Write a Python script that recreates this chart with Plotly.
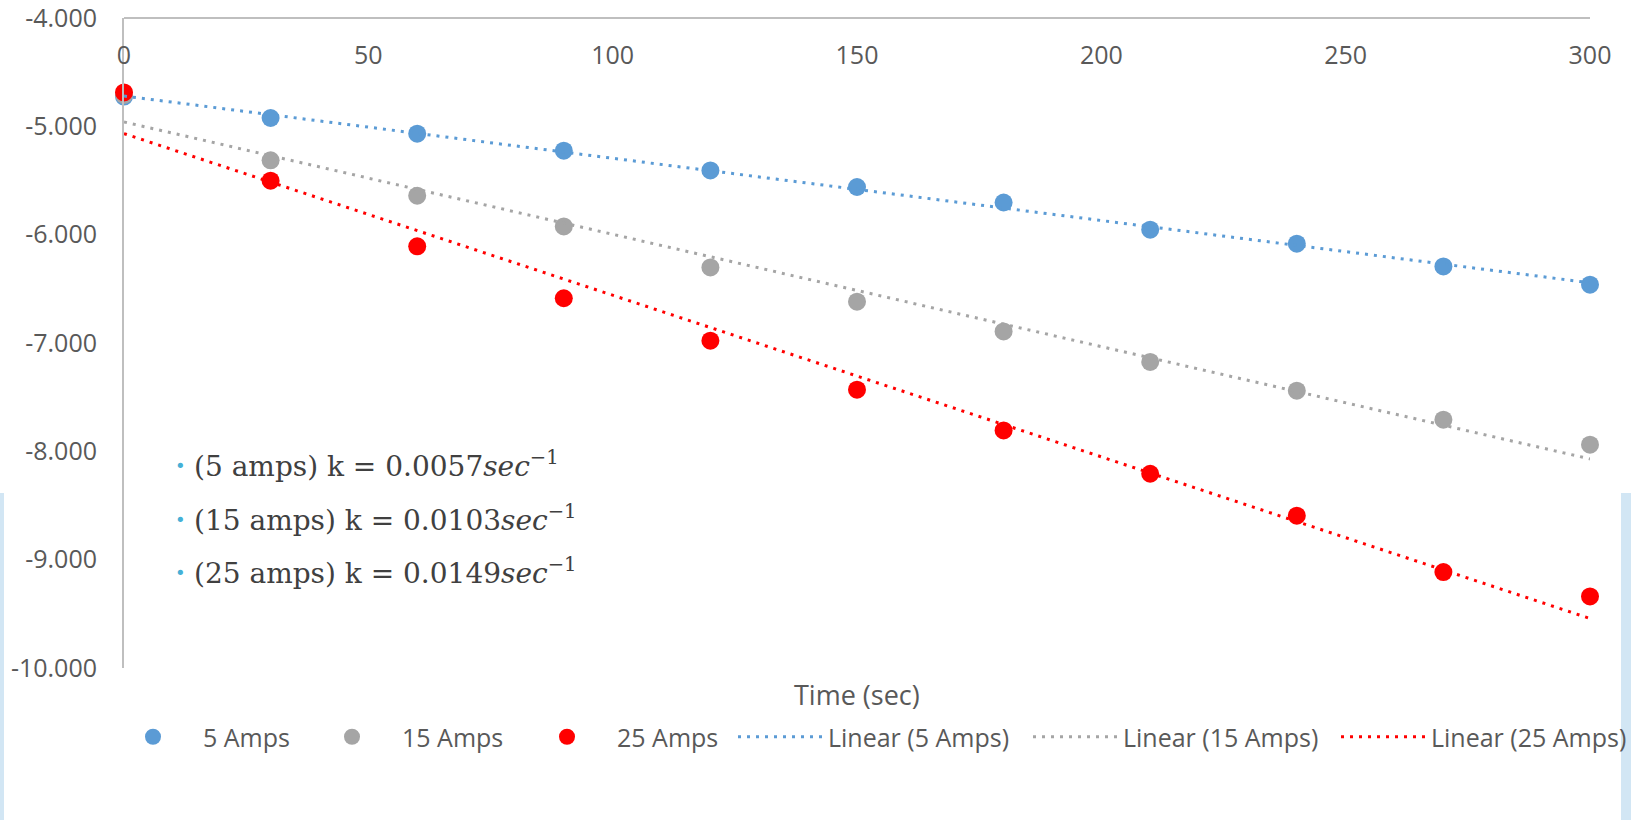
import numpy as np
import plotly.graph_objects as go

# ---------------- data ----------------
time_sec = [0, 30, 60, 90, 120, 150, 180, 210, 240, 270, 300]
amps_5 = [-4.725, -4.923, -5.068, -5.225, -5.407, -5.560, -5.703, -5.954, -6.083, -6.293, -6.462]
amps_15 = [-4.710, -5.314, -5.640, -5.924, -6.302, -6.619, -6.893, -7.175, -7.440, -7.708, -7.939]
amps_25 = [-4.687, -5.502, -6.108, -6.587, -6.979, -7.431, -7.807, -8.207, -8.594, -9.114, -9.339]

series_names = ["5 Amps", "15 Amps", "25 Amps"]
series_colors = ["#5b9bd5", "#a5a5a5", "#ff0000"]

x_ticks = [0, 50, 100, 150, 200, 250, 300]
y_ticks = [-4, -5, -6, -7, -8, -9, -10]
y_tick_labels = ["-4.000", "-5.000", "-6.000", "-7.000", "-8.000", "-9.000", "-10.000"]

rate_labels = ["(5 amps) k = 0.0057", "(15 amps) k = 0.0103", "(25 amps) k = 0.0149"]
x_title = "Time (sec)"

# ---------------- figure ----------------
W, H = 1631, 820
ML, MR, MT, MB = 124, 41, 18, 152
PW, PH = W - ML - MR, H - MT - MB
TXT = "#595959"
FONT = "Open Sans"

fig = go.Figure()
all_series = [amps_5, amps_15, amps_25]

# markers
for i, (nm, col, ys) in enumerate(zip(series_names, series_colors, all_series)):
    fig.add_trace(go.Scatter(
        x=time_sec, y=ys, mode="markers", name=nm,
        marker=dict(size=18, color=col),
        cliponaxis=False,
        legend="legend" if i == 0 else f"legend{i + 1}",
    ))

# linear trendlines (least squares through each series)
for i, (nm, col, ys) in enumerate(zip(series_names, series_colors, all_series)):
    slope, icpt = np.polyfit(time_sec, ys, 1)
    xs = [time_sec[0], time_sec[-1]]
    fig.add_trace(go.Scatter(
        x=xs, y=[slope * v + icpt for v in xs], mode="lines",
        name=f"Linear ({nm})",
        line=dict(color=col, width=3, dash="3px,6px"),
        cliponaxis=False,
        legend=f"legend{i + 4}",
    ))


def leg(px, iw):
    return dict(
        x=px / W, xref="container", y=1 - 737 / H, yref="container",
        xanchor="left", yanchor="middle", orientation="h",
        itemwidth=iw, itemsizing="trace",
        font=dict(family=FONT, size=25, color=TXT),
        bgcolor="rgba(0,0,0,0)", borderwidth=0,
    )


def px_to_paper_x(px):
    return (px - ML) / PW


def py_to_paper_y(py):
    return (H - MB - py) / PH


annotations = [
    dict(text=x_title, xref="paper", yref="paper", x=0.5, y=py_to_paper_y(694),
         xanchor="center", yanchor="middle", showarrow=False,
         font=dict(family=FONT, size=27, color=TXT)),
]
line_y = [464, 518, 571]
for lab, py in zip(rate_labels, line_y):
    annotations.append(dict(
        text="•", xref="paper", yref="paper", x=px_to_paper_x(180), y=py_to_paper_y(py + 1),
        xanchor="center", yanchor="middle", showarrow=False,
        font=dict(family="DejaVu Sans", size=18, color="#45b0d6")))
    annotations.append(dict(
        text=f"{lab}<i>sec</i><sup>−1</sup>", xref="paper", yref="paper",
        x=px_to_paper_x(192), y=py_to_paper_y(py), xanchor="left", yanchor="middle",
        showarrow=False, font=dict(family="DejaVu Serif", size=28, color="#404040")))

band_color = "#d2e6f4"
shapes = [
    dict(type="rect", xref="paper", yref="paper", x0=px_to_paper_x(0), x1=px_to_paper_x(4),
         y0=py_to_paper_y(820), y1=py_to_paper_y(493), fillcolor=band_color, line_width=0,
         layer="above"),
    dict(type="rect", xref="paper", yref="paper", x0=px_to_paper_x(1621), x1=px_to_paper_x(1631),
         y0=py_to_paper_y(820), y1=py_to_paper_y(493), fillcolor=band_color, line_width=0,
         layer="above"),
]

fig.update_layout(
    width=W, height=H,
    margin=dict(l=ML, r=MR, t=MT, b=MB, pad=0, autoexpand=False),
    paper_bgcolor="white", plot_bgcolor="white",
    font=dict(family=FONT, color=TXT),
    showlegend=True,
    legend=leg(103, 90),
    legend2=leg(302, 90),
    legend3=leg(517, 90),
    legend4=leg(733, 85),
    legend5=leg(1028, 85),
    legend6=leg(1336, 85),
    annotations=annotations,
    shapes=shapes,
    xaxis=dict(
        range=[0, 300], side="bottom", anchor="free", position=1, automargin=False,
        showline=True, linecolor="#bfbfbf", linewidth=2,
        showgrid=False, zeroline=False, ticks="", tickvals=x_ticks,
        ticklabelstandoff=15, ticklabeloverflow="allow",
        tickfont=dict(family=FONT, size=25, color=TXT),
    ),
    yaxis=dict(
        range=[-10, -4], automargin=False, showline=True, linecolor="#bfbfbf", linewidth=2,
        showgrid=False, zeroline=False, ticks="", tickvals=y_ticks, ticktext=y_tick_labels,
        ticklabelstandoff=20, ticklabeloverflow="allow",
        tickfont=dict(family=FONT, size=25, color=TXT),
    ),
)

fig.write_html(
    "out.html",
    config={"displayModeBar": False},
    post_script="document.body.style.margin='0';document.body.style.overflow='hidden';",
)
